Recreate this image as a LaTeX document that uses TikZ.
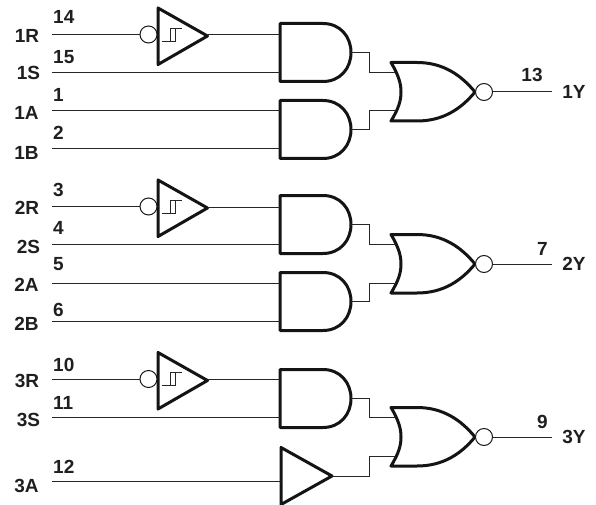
\documentclass[tikz,border=0pt]{standalone}
\usepackage{fontspec}
\setmainfont{Liberation Sans}
\tikzset{
  x=1pt,y=-1pt,
  wire/.style={line width=1pt,draw=black!85},
  gateline/.style={line width=3pt,line join=round,line cap=round,draw=black!92},
  lab/.style={font=\fontsize{19}{19}\selectfont\bfseries,inner sep=0pt,text=black!88},
  num/.style={lab,anchor=west},
  bub/.style={circle,draw=black!90,line width=1pt,minimum size=17pt,inner sep=0pt,fill=white},
  andgate/.pic={
    \draw[gateline] (0,-29) -- (43,-29) .. controls (60,-29) and (71,-16) .. (71,0)
      .. controls (71,16) and (60,29) .. (43,29) -- (0,29) -- cycle;
    \coordinate (-w) at (0,0);
    \coordinate (-o) at (71,0);
  },
  norgate/.pic={
    \draw[gateline] (-84,-29.5) -- (-58,-29.5) .. controls (-32,-29.5) and (-14,-17) .. (0,0)
      .. controls (-14,17) and (-32,29) .. (-58,29) -- (-84,29)
      .. controls (-76,16) and (-74,8) .. (-74,0) .. controls (-74,-8) and (-76,-16) .. (-84,-29.5) -- cycle;
    \node[bub] (-b) at (9,0) {};
    \coordinate (-i1) at (-79,-19.5);
    \coordinate (-i2) at (-79,19);
    \coordinate (-j) at (-106,0);
  },
  bufgate/.pic={
    \draw[gateline] (0,-28.5) -- (51,0) -- (0,28.5) -- cycle;
    \coordinate (-w) at (0,0);
    \coordinate (-o) at (51,0);
  },
  schmitt/.pic={
    \draw[gateline] (0,-28) -- (49.5,0) -- (0,28.5) -- cycle;
    \draw[line width=0.9pt,draw=black!85] (4,5) -- (17,5) -- (17,-8) -- (12,-8) -- (12,5);
    \draw[line width=0.9pt,draw=black!85] (12,-8) -- (24,-8);
    \node[bub] (-b) at (-9.5,-1.5) {};
    \coordinate (-o) at (49.5,-1);
  },
}
\begin{document}
\begin{tikzpicture}
\useasboundingbox[fill=white] (0,0) rectangle (596,505);

% free ends of the input and output connectors
\foreach \n/\y in {1R/34.5,1S/72.5,1A/111,1B/149,2R/206.5,2S/244.5,2A/283,2B/321,3R/379,3S/417.5,3A/481}
  \coordinate (p\n) at (52,\y);
\foreach \n/\y in {1/92,2/264,3/437}
  \coordinate (y\n) at (552,\y);

% gates
\pic (t1) at (158,36) {schmitt};
\pic (t2) at (158,208) {schmitt};
\pic (t3) at (158,380.5) {schmitt};
\pic (a1) at (280,52.5) {andgate};
\pic (b1) at (280,129.5) {andgate};
\pic (a2) at (280,224.5) {andgate};
\pic (b2) at (280,301.5) {andgate};
\pic (a3) at (280,398.5) {andgate};
\pic (b3) at (281,476) {bufgate};
\pic (n1) at (475,92) {norgate};
\pic (n2) at (475,264) {norgate};
\pic (n3) at (475,437) {norgate};

% connectors
\foreach \k in {1,2,3}{
  \draw[wire] (p\k R) -- (t\k-b);
  \draw[wire] (t\k-o) -- (t\k-o -| a\k-w);
  \draw[wire] (p\k S) -- (p\k S -| a\k-w);
  \draw[wire] (n\k-b) -- (y\k);
  \draw[wire] (a\k-o) -- (a\k-o -| n\k-j) -- (n\k-j |- n\k-i1) -- (n\k-i1);
  \draw[wire] (b\k-o) -- (b\k-o -| n\k-j) -- (n\k-j |- n\k-i2) -- (n\k-i2);
}
\foreach \k in {1,2}{
  \draw[wire] (p\k A) -- (p\k A -| b\k-w);
  \draw[wire] (p\k B) -- (p\k B -| b\k-w);
}
\draw[wire] (p3A) -- (p3A -| b3-w);

% labels
\foreach \t/\x/\y in {1R/27/36,1S/28.5/73,1A/26.5/113,1B/26.5/153,
  2R/27/208,2S/28.5/247,2A/26.5/285,2B/26.5/324,
  3R/27/381,3S/28.5/420,3A/26.5/486,
  1Y/574/92,2Y/574/264,3Y/574/437}
  \node[lab] (l\t) at (\x,\y) {\t};
\foreach \t/\y in {14/17,15/57,1/95,2/133,3/190,4/228,5/264,6/310,10/365,11/403,12/467}
  \node[num] (n\t) at (53,\y) {\t};
\node[lab] (n13) at (532,75) {13};
\node[lab] (n7) at (542.5,249) {7};
\node[lab] (n9) at (542.5,421.5) {9};
\end{tikzpicture}
\end{document}
